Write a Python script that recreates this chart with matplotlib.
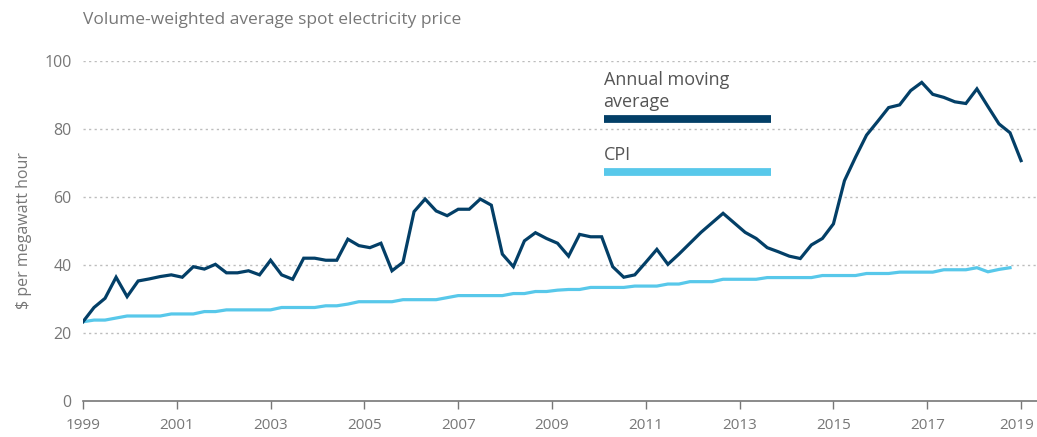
import matplotlib
matplotlib.use("Agg")
import matplotlib.pyplot as plt
import matplotlib.transforms as mtransforms
import numpy as np

plt.rcParams['font.family'] = ['Open Sans', 'DejaVu Sans']

# Volume-weighted spot price, annual moving average ($/MWh), evenly spaced 1999-2019
price = [23.3, 27.5, 30.2, 36.4, 30.7, 35.3, 35.9, 36.6, 37.1, 36.4,
         39.5, 38.8, 40.2, 37.7, 37.7, 38.3, 37.1, 41.4, 37.1, 35.8,
         42.0, 42.0, 41.4, 41.4, 47.6, 45.7, 45.1, 46.4, 38.3, 40.8,
         55.7, 59.4, 55.9, 54.5, 56.4, 56.4, 59.4, 57.6, 43.2, 39.5,
         47.1, 49.5, 47.8, 46.4, 42.6, 49.0, 48.3, 48.3, 39.5, 36.4,
         37.1, 40.8, 44.6, 40.2, 43.2, 46.4, 49.6, 52.4, 55.2, 52.4,
         49.6, 47.8, 45.1, 43.9, 42.6, 41.9, 45.9, 47.8, 52.1, 64.8,
         71.7, 78.2, 82.2, 86.3, 87.1, 91.3, 93.7, 90.2, 89.3, 88.0,
         87.5, 91.8, 86.6, 81.5, 78.9, 70.7]

# CPI scaled to the same starting level
cpi = [23.3, 23.8, 23.8, 24.4, 25.0, 25.0, 25.0, 25.0, 25.6, 25.6,
       25.6, 26.3, 26.3, 26.8, 26.8, 26.8, 26.8, 26.8, 27.5, 27.5,
       27.5, 27.5, 28.0, 28.0, 28.5, 29.2, 29.2, 29.2, 29.2, 29.8,
       29.8, 29.8, 29.8, 30.4, 31.0, 31.0, 31.0, 31.0, 31.0, 31.6,
       31.6, 32.2, 32.2, 32.6, 32.8, 32.8, 33.4, 33.4, 33.4, 33.4,
       33.8, 33.8, 33.8, 34.4, 34.4, 35.1, 35.1, 35.1, 35.8, 35.8,
       35.8, 35.8, 36.3, 36.3, 36.3, 36.3, 36.3, 36.9, 36.9, 36.9,
       36.9, 37.5, 37.5, 37.5, 37.9, 37.9, 37.9, 37.9, 38.6, 38.6,
       38.6, 39.2, 38.0, 38.7, 39.2]

year_ticks = list(range(1999, 2020, 2))
y_ticks = [0, 20, 40, 60, 80, 100]

dark = '#033f67'
light = '#58c8ea'
grey = '#777777'

t = np.linspace(1999, 2019, len(price))
step = t[1] - t[0]
t_cpi = t[0] + step * np.arange(len(cpi))

fig = plt.figure(figsize=(10.37, 4.37), dpi=100)
ax = fig.add_axes([0.080, 0.0824, 0.920, 0.778])

for v in y_ticks[1:]:
    ax.axhline(v, color='#bdbdbd', lw=1.0, ls=(0, (1.6, 2.4)), zorder=0)

ax.plot(t_cpi, cpi, color=light, lw=2.3, solid_joinstyle='miter', zorder=2)
ax.plot(t, price, color=dark, lw=2.3, solid_joinstyle='miter', zorder=3)

ax.set_xlim(1999, 2019.34)
ax.set_ylim(0, 100)
ax.set_xticks(year_ticks)
ax.set_yticks(y_ticks)
ax.tick_params(axis='x', direction='out', length=6, width=1, color=grey,
               labelsize=11, labelcolor=grey, pad=6)
ax.tick_params(axis='y', length=0, labelsize=11.5, labelcolor=grey, pad=8)

# nudge the last year label so it stays inside the figure
last = ax.get_xticklabels()[-1]
last.set_transform(last.get_transform() +
                   mtransforms.ScaledTranslation(-4 / 100, 0, fig.dpi_scale_trans))

for s in ['top', 'right', 'left']:
    ax.spines[s].set_visible(False)
ax.spines['bottom'].set_color(grey)
ax.spines['bottom'].set_linewidth(1.2)

ax.set_ylabel('$ per megawatt hour', fontsize=11.5, color=grey, labelpad=9)
fig.text(0.080, 0.945, 'Volume-weighted average spot electricity price',
         fontsize=12.5, color=grey, ha='left', va='baseline')

# legend: label text with a thick bar underneath
ax.text(2010.1, 92.9, 'Annual moving', fontsize=13, color='#555555', va='baseline')
ax.text(2010.1, 86.6, 'average', fontsize=13, color='#555555', va='baseline')
ax.plot([2010.1, 2013.66], [82.9, 82.9], color=dark, lw=5.6, solid_capstyle='butt')
ax.text(2010.1, 70.9, 'CPI', fontsize=13, color='#555555', va='baseline')
ax.plot([2010.1, 2013.66], [67.4, 67.4], color=light, lw=5.6, solid_capstyle='butt')

fig.savefig('out.png', dpi=100)
